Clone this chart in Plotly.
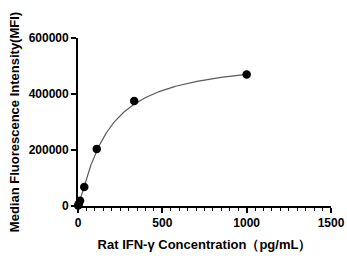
import numpy as np
import plotly.graph_objects as go

# Data
conc = [1000, 333.3, 111.1, 37.04, 12.35, 4.12, 1.37]
mfi = [470000, 375000, 204000, 68000, 19000, 6000, 2000]
x_ticks = [0, 500, 1000, 1500]
y_ticks = [0, 200000, 400000, 600000]

# 4PL fit parameters (estimated)
bottom, top, ec50, hill = 0, 526000, 170, 1.2
xc = np.linspace(0, 1000, 400)
yc = bottom + (top - bottom) * xc**hill / (ec50**hill + xc**hill)

fig = go.Figure()
fig.add_trace(go.Scatter(x=xc, y=yc, mode="lines",
                         line=dict(color="#5a5a5a", width=1.2),
                         hoverinfo="skip", cliponaxis=False))
fig.add_trace(go.Scatter(x=conc, y=mfi, mode="markers",
                         marker=dict(color="black", size=8.5),
                         cliponaxis=False))

fig.update_layout(
    width=347, height=260,
    margin=dict(l=78, r=16, t=38, b=54),
    plot_bgcolor="white", paper_bgcolor="white",
    showlegend=False,
    font=dict(family="Liberation Sans, Arial", size=12, color="black"),
)
fig.update_xaxes(
    range=[0, 1500], tickvals=x_ticks,
    ticktext=[f"<b>{v}</b>" for v in x_ticks],
    showgrid=False, zeroline=False, automargin=False,
    showline=True, linecolor="black", linewidth=1.8,
    ticks="outside", ticklen=5, tickwidth=1.5, tickcolor="black",
    minor=dict(dtick=50, ticks="outside", ticklen=3, tickwidth=1.2, tickcolor="black", showgrid=False),
    title=dict(text="<b>Rat IFN-γ Concentration（pg/mL）</b>", font=dict(size=13), standoff=11),
)
fig.update_yaxes(
    range=[0, 600000], tickvals=y_ticks,
    ticktext=[f"<b>{v}</b>" for v in y_ticks],
    showgrid=False, zeroline=False, automargin=False,
    showline=True, linecolor="black", linewidth=1.8,
    ticks="outside", ticklen=5, tickwidth=1.5, tickcolor="black",
    title=dict(text="<b>Median Fluorescence Intensity(MFI)</b>", font=dict(size=13), standoff=6),
)
fig.write_html(
    "out.html",
    config={"displayModeBar": False},
    post_script="document.body.style.margin='0';document.body.style.overflow='hidden';",
)
